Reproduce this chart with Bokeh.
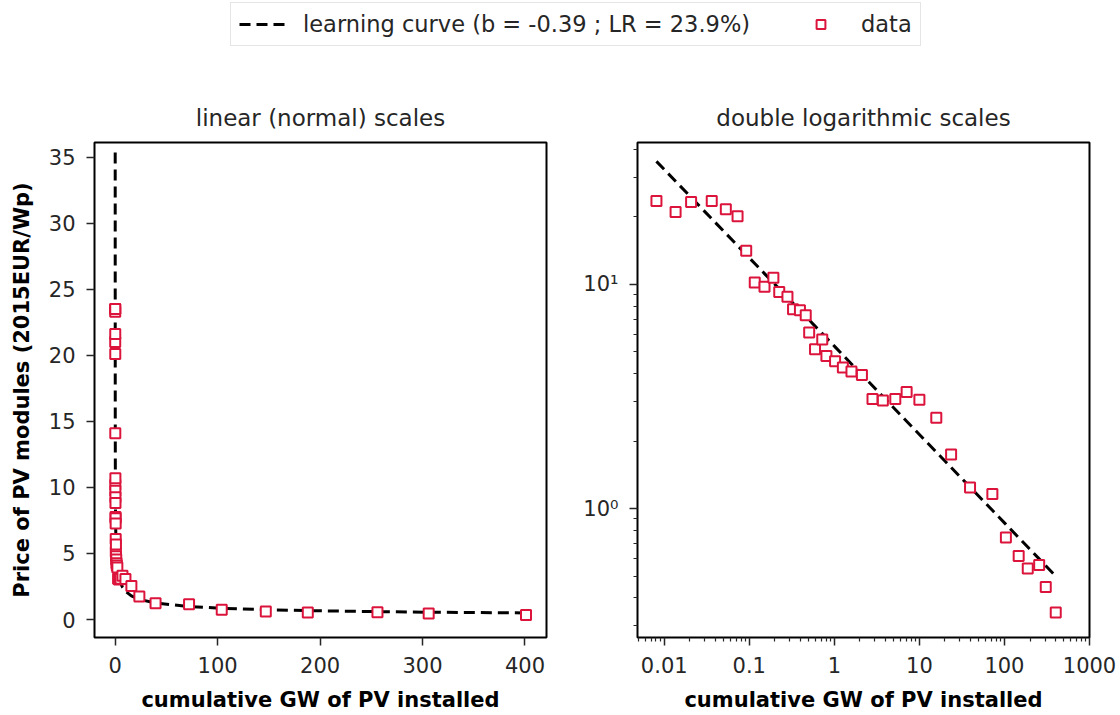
import numpy as np
from bokeh.plotting import figure
from bokeh.layouts import column, row
from bokeh.models import Range1d, FixedTicker, Legend, LegendItem
from bokeh.embed import file_html
from bokeh.resources import INLINE

# ---------------- data ----------------
gw_installed = [0.0081, 0.0136, 0.0207, 0.0362, 0.053, 0.0728, 0.092, 0.116, 0.151, 0.192,
                0.225, 0.281, 0.327, 0.394, 0.461, 0.506, 0.593, 0.721, 0.807, 1.02,
                1.26, 1.59, 2.11, 2.81, 3.72, 5.21, 7.08, 10.0, 15.8, 23.6,
                39.4, 72.1, 104, 147, 188, 256, 306, 401]
price_eur_wp = [23.5, 21.0, 23.3, 23.5, 21.6, 20.1, 14.1, 10.2, 9.75, 10.7,
                9.25, 8.81, 7.75, 7.67, 7.27, 6.09, 5.13, 5.68, 4.79, 4.54,
                4.26, 4.09, 3.94, 3.08, 3.03, 3.08, 3.31, 3.06, 2.54, 1.74,
                1.24, 1.16, 0.743, 0.614, 0.540, 0.560, 0.447, 0.344]
# fitted learning curve  price = a * GW^b
b_exponent = -0.394
a_coeff = 5.3
curve_label = "learning curve (b = -0.39 ; LR = 23.9%)"
data_label = "data"
title_lin = "linear (normal) scales"
title_log = "double logarithmic scales"
x_label = "cumulative GW of PV installed"
y_label = "Price of PV modules (2015EUR/Wp)"
x_lin_ticks = [0, 100, 200, 300, 400]
y_lin_ticks = [0, 5, 10, 15, 20, 25, 30, 35]
x_log_ticks = [0.01, 0.1, 1, 10, 100, 1000]
x_log_labels = ["0.01", "0.1", "1", "10", "100", "1000"]
y_log_ticks = [1, 10]
y_log_labels = ["10\u2070", "10\u00b9"]

xs = np.array(gw_installed, dtype=float)
curve = a_coeff * xs ** b_exponent

FONT = "DejaVu Sans"
TXT = "#262626"
RED = "#DC143C"

def style(p, title):
    p.title.text = title
    p.title.text_font = FONT
    p.title.text_font_size = "23px"
    p.title.text_font_style = "normal"
    p.title.text_color = TXT
    p.title.align = "center"
    p.title.standoff = 24
    p.grid.visible = False
    p.outline_line_color = "black"
    p.outline_line_width = 2
    p.background_fill_color = "white"
    p.border_fill_color = "white"
    for ax in (p.xaxis[0], p.yaxis[0]):
        ax.axis_line_color = None
        ax.major_tick_out = 8
        ax.major_tick_in = 0
        ax.minor_tick_out = 4
        ax.minor_tick_in = 0
        ax.major_tick_line_width = 1.5
        ax.minor_tick_line_width = 1.2
        ax.major_tick_line_color = TXT
        ax.minor_tick_line_color = TXT
        ax.major_label_text_font = FONT
        ax.major_label_text_font_size = "21px"
        ax.major_label_text_color = TXT
        ax.major_label_standoff = 11
        ax.axis_label_text_font = FONT
        ax.axis_label_text_font_size = "21px"
        ax.axis_label_text_font_style = "bold"
        ax.axis_label_text_color = "black"
        ax.axis_label_standoff = 12

# ---------------- left: linear ----------------
p1 = figure(frame_width=452, frame_height=495, toolbar_location=None, output_backend="svg",
            x_range=Range1d(-20.2, 421), y_range=Range1d(-1.36, 36.1),
            min_border_left=94, min_border_right=20, min_border_top=82, min_border_bottom=78)
p1.line(gw_installed, curve, line_color="black", line_width=3, line_dash="11 6")
p1.scatter(gw_installed, price_eur_wp, marker="square", size=10, line_color=RED,
           line_width=2, fill_color="white")
style(p1, title_lin)
p1.xaxis.ticker = FixedTicker(ticks=x_lin_ticks)
p1.yaxis.ticker = FixedTicker(ticks=y_lin_ticks)
p1.xaxis.axis_label = x_label
p1.yaxis.axis_label = y_label

# ---------------- right: log-log ----------------
p2 = figure(frame_width=452, frame_height=495, toolbar_location=None, output_backend="svg",
            x_axis_type="log", y_axis_type="log",
            x_range=Range1d(0.00485, 1000), y_range=Range1d(0.266, 42.9),
            min_border_left=71, min_border_right=31, min_border_top=82, min_border_bottom=78)
p2.line(gw_installed, curve, line_color="black", line_width=3, line_dash="11 6")
p2.scatter(gw_installed, price_eur_wp, marker="square", size=10, line_color=RED,
           line_width=2, fill_color="white")
style(p2, title_log)
x_minor = [m * d for d in [0.001, 0.01, 0.1, 1, 10, 100] for m in range(2, 10)]
y_minor = [m * d for d in [0.1, 1, 10] for m in range(2, 10)]
p2.xaxis.ticker = FixedTicker(ticks=x_log_ticks, minor_ticks=x_minor)
p2.yaxis.ticker = FixedTicker(ticks=y_log_ticks, minor_ticks=y_minor)
p2.xaxis.major_label_overrides = {t: l for t, l in zip(x_log_ticks, x_log_labels)}
p2.yaxis.major_label_overrides = {t: l for t, l in zip(y_log_ticks, y_log_labels)}
p2.xaxis.axis_label = x_label

# ---------------- legend strip ----------------
lf = figure(width=1120, height=60, toolbar_location=None, output_backend="svg",
            x_range=Range1d(0, 1), y_range=Range1d(0, 1),
            x_axis_location=None, y_axis_location=None, min_border=0)
lf.grid.visible = False
lf.outline_line_color = None
r1 = lf.line([5, 6], [5, 6], line_color="black", line_width=3, line_dash="11 6")
r2 = lf.scatter([5], [5], marker="square", size=10, line_color=RED, line_width=2,
                fill_color="white")
legend = Legend(items=[LegendItem(label=curve_label, renderers=[r1]),
                       LegendItem(label=data_label, renderers=[r2])],
                orientation="horizontal", location=(230, 14),
                label_text_font=FONT, label_text_font_size="22.5px", label_text_color=TXT,
                glyph_width=47, glyph_height=22, label_standoff=17, spacing=47,
                padding=8, margin=0, border_line_color="#cccccc", border_line_width=1.5,
                background_fill_color="white", background_fill_alpha=1.0)
lf.add_layout(legend)

layout = column(lf, row(p1, p2, spacing=0), spacing=0)
open("out.html", "w").write(file_html(layout, INLINE))
